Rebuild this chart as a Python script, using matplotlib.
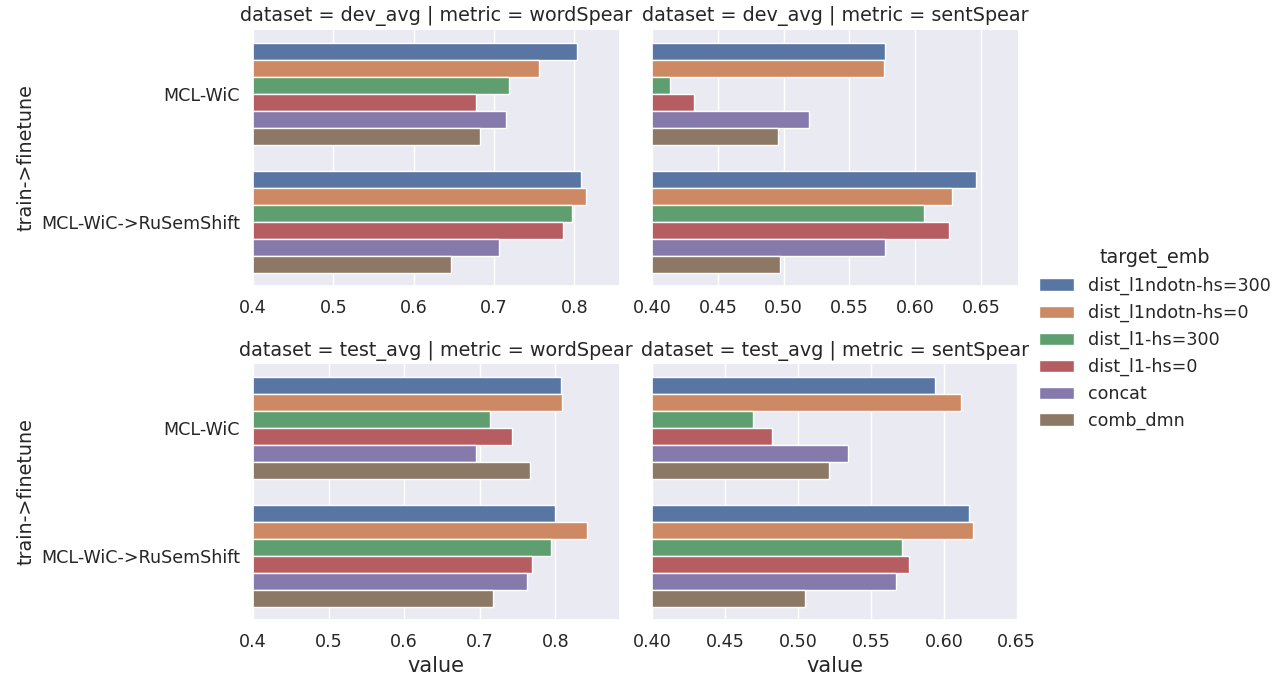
import pandas as pd
import seaborn as sns
from matplotlib import pyplot as plt

# datos
datasets = ['dev_avg', 'test_avg']
metrics = ['wordSpear', 'sentSpear']
pairs = ['MCL-WiC', 'MCL-WiC->RuSemShift']
embs = ['dist_l1ndotn-hs=300', 'dist_l1ndotn-hs=0', 'dist_l1-hs=300',
        'dist_l1-hs=0', 'concat', 'comb_dmn']

# valores por emb, orden: [MCL-WiC, MCL-WiC->RuSemShift]
dev_word = {
    'dist_l1ndotn-hs=300': [0.803, 0.808],
    'dist_l1ndotn-hs=0': [0.756, 0.815],
    'dist_l1-hs=300': [0.719, 0.797],
    'dist_l1-hs=0': [0.678, 0.786],
    'concat': [0.715, 0.706],
    'comb_dmn': [0.683, 0.646],
}
dev_sent = {
    'dist_l1ndotn-hs=300': [0.577, 0.646],
    'dist_l1ndotn-hs=0': [0.576, 0.628],
    'dist_l1-hs=300': [0.414, 0.607],
    'dist_l1-hs=0': [0.432, 0.626],
    'concat': [0.519, 0.577],
    'comb_dmn': [0.496, 0.497],
}
test_word = {
    'dist_l1ndotn-hs=300': [0.807, 0.800],
    'dist_l1ndotn-hs=0': [0.808, 0.842],
    'dist_l1-hs=300': [0.713, 0.794],
    'dist_l1-hs=0': [0.743, 0.769],
    'concat': [0.695, 0.762],
    'comb_dmn': [0.766, 0.717],
}
test_sent = {
    'dist_l1ndotn-hs=300': [0.594, 0.617],
    'dist_l1ndotn-hs=0': [0.612, 0.620],
    'dist_l1-hs=300': [0.469, 0.571],
    'dist_l1-hs=0': [0.482, 0.576],
    'concat': [0.534, 0.567],
    'comb_dmn': [0.521, 0.505],
}

tablas = {('dev_avg', 'wordSpear'): dev_word, ('dev_avg', 'sentSpear'): dev_sent,
          ('test_avg', 'wordSpear'): test_word, ('test_avg', 'sentSpear'): test_sent}

rows = []
for (ds, met), t in tablas.items():
    for emb in embs:
        for p, v in zip(pairs, t[emb]):
            rows.append({'dataset': ds, 'metric': met, 'train->finetune': p,
                         'target_emb': emb, 'value': v})
df = pd.DataFrame(rows)

sns.set_theme(style='darkgrid', font_scale=1.15)

g = sns.catplot(data=df, kind='bar', x='value', y='train->finetune',
                hue='target_emb', hue_order=embs, row='dataset', col='metric',
                row_order=datasets, col_order=metrics, sharex=False,
                height=3, aspect=1.4, edgecolor='white', linewidth=1)

for ax in g.axes.flat:
    ax.set_xlim(left=0.4)
for ax in g.axes[-1]:
    ax.set_xlabel('value', fontsize=15)

fig = g.figure
fig.set_size_inches(12.84, 6.78)
fig.subplots_adjust(left=0.197, right=0.793, top=0.956, bottom=0.086,
                    wspace=0.09, hspace=0.306)
sns.move_legend(g, 'center left', bbox_to_anchor=(0.797, 0.5))

fig.savefig('out.png', dpi=100)
